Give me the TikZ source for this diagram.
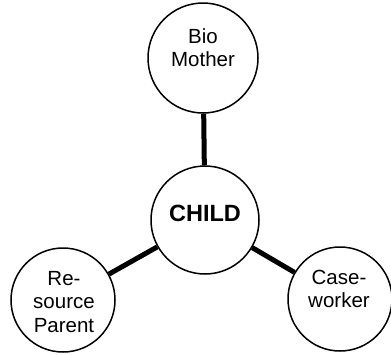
\documentclass[tikz,border=0pt]{standalone}
\usepackage{fontspec}
\setmainfont{Liberation Sans}
\begin{document}
\begin{tikzpicture}[x=1pt,y=-1pt,
  person/.style={circle,draw=black,line width=1.5pt,inner sep=0pt,fill=white},
  tie/.style={line width=5pt},
  lbl/.style={align=center,font=\fontsize{20.5}{23.5}\selectfont},
  childlbl/.style={font=\fontsize{23.5}{27}\selectfont\bfseries}]
\useasboundingbox (0,0) rectangle (391,354);
\node[person,minimum size=110pt] (bio) at (203,58) {};
\node[person,minimum size=108pt] (child) at (205,220) {};
\node[person,minimum size=104pt] (res) at (63,300) {};
\node[person,minimum size=104pt] (case) at (340,299) {};
\draw[tie] (bio) -- (child);
\draw[tie] (res) -- (child);
\draw[tie] (case) -- (child);
\node[lbl] (biot) at (203,47.5) {Bio\\Mother};
\node[childlbl] (childt) at (205,213.5) {CHILD};
\node[lbl] (rest) at (64,302) {Re-\\source\\Parent};
\node[lbl] (caset) at (339,289) {Case-\\worker};
\end{tikzpicture}
\end{document}
